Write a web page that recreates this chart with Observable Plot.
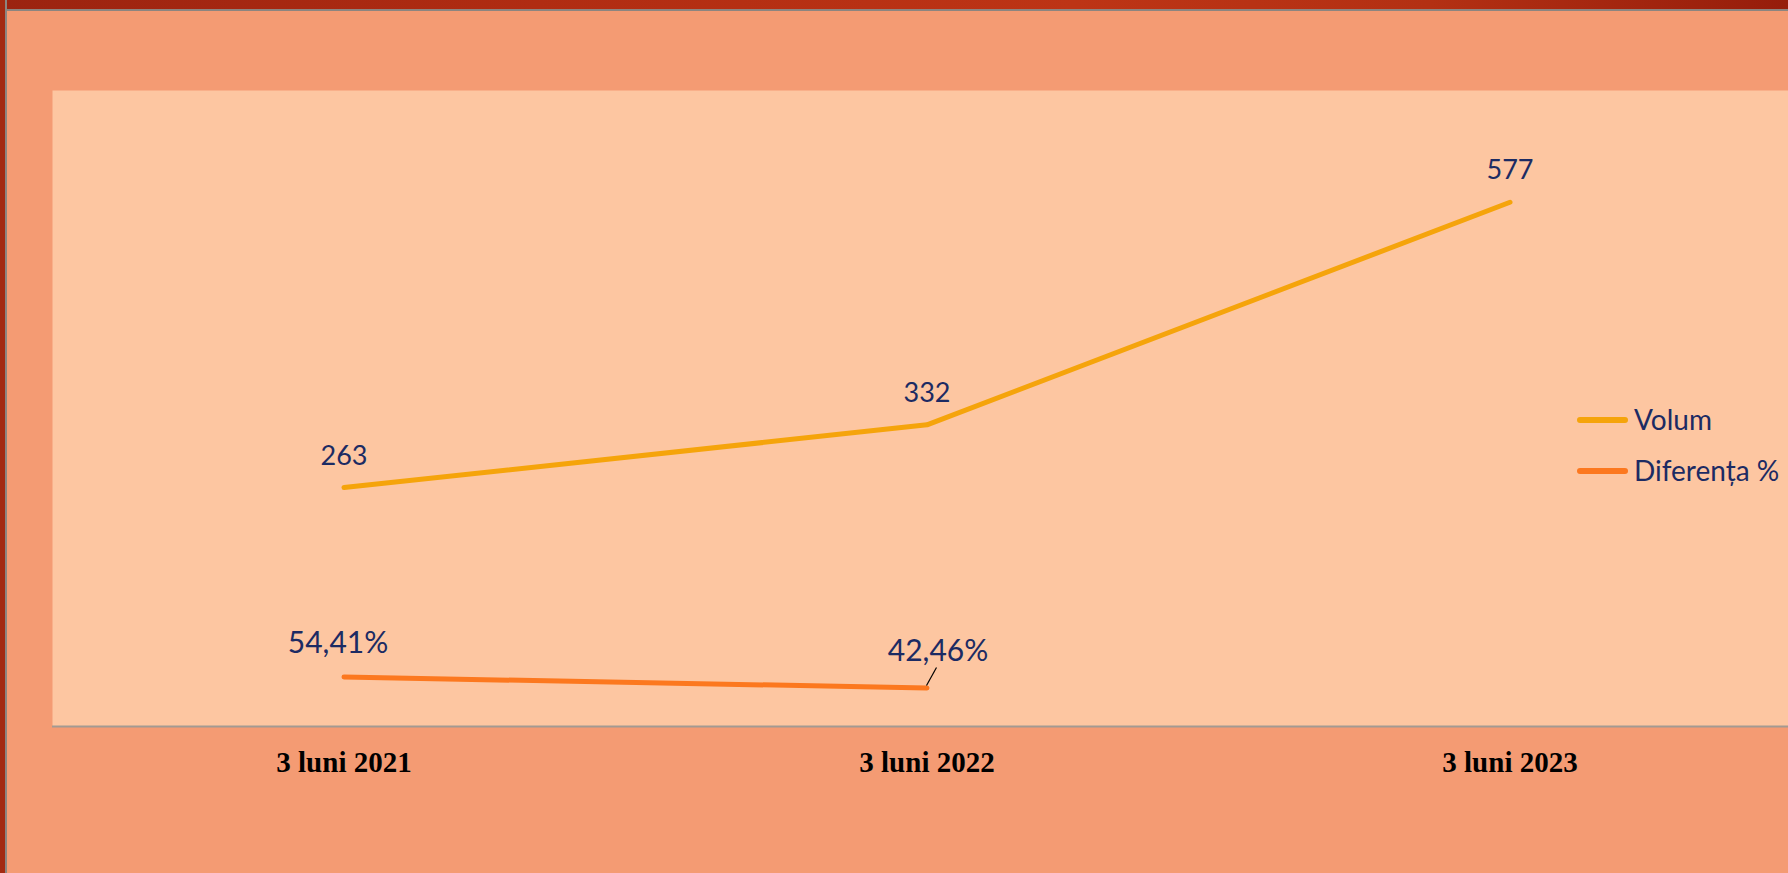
<!DOCTYPE html>
<html><head><meta charset="utf-8">
<script src="https://cdn.jsdelivr.net/npm/d3@7"></script>
<script src="https://cdn.jsdelivr.net/npm/@observablehq/plot@0.6"></script>
<style>
html,body{margin:0;padding:0;}
body{width:1788px;height:873px;overflow:hidden;background:#f49b73;position:relative;}
#top{position:absolute;left:0;top:0;width:1788px;height:9px;background:linear-gradient(90deg,#9b2310 0%,#b02c12 30%,#bd3415 60%,#b33013 80%,#961d0b 100%);border-bottom:2px solid #8c8580;z-index:3}
#left{position:absolute;left:0;top:0;width:5px;height:873px;background:#a32a12;border-right:2px solid #8c8580;z-index:3}
#chart{position:absolute;left:0;top:0;width:1801px;}
#chart svg{max-width:none !important;}
.leg{position:absolute;left:1577px;height:0;z-index:2;font-family:Lato,"Noto Sans",sans-serif;font-size:28px;color:#1c2b63;}
.leg .sw{position:absolute;left:0;top:-3px;width:51px;height:6px;border-radius:3px;}
.leg .lb{position:absolute;left:57px;top:-18px;white-space:nowrap;line-height:34px;}
</style></head>
<body>
<div id="top"></div><div id="left"></div>
<div id="chart"></div>
<script>
const categories = ["3 luni 2021", "3 luni 2022", "3 luni 2023"];
const volum = [263, 332, 577];
const diferenta = [54.41, 42.46];
const seriesNames = ["Volum", "Diferența %"];
const seriesColors = ["#f5a40b", "#fc781f"];

const volData = categories.map((c, i) => ({cat: c, v: volum[i]}));
const difData = diferenta.map((v, i) => ({cat: categories[i], v}));
const fmtPct = v => v.toFixed(2).replace(".", ",") + "%";
const navy = "#1c2b63";

const leader = Plot.dot([difData[1]], {
  x: "cat", y: "v", r: 0,
  render(index, scales, values, dims, ctx) {
    const g = d3.create("svg:g");
    const s = scales.x;
    const bw = typeof s.bandwidth === "function" ? s.bandwidth() : (s.bandwidth ?? 0);
    for (const d of [difData[1]]) {
      const x = s(d.cat) + bw / 2, y = scales.y(d.v);
      g.append("line").attr("x1", x).attr("y1", y - 2).attr("x2", x + 10).attr("y2", y - 20)
        .attr("stroke", "#000").attr("stroke-width", 1.2);
    }
    return g.node();
  }
});

const chart = Plot.plot({
  width: 1801, height: 873,
  marginLeft: 52, marginRight: 0, marginTop: 90, marginBottom: 147,
  x: {type: "band", domain: categories, padding: 0, label: null},
  y: {domain: [0, 700], axis: null},
  style: {background: "transparent", overflow: "visible", maxWidth: "none"},
  marks: [
    Plot.frame({fill: "#fdc6a1", stroke: "none"}),
    Plot.ruleY([0], {stroke: "#a39a92", strokeWidth: 2}),
    Plot.axisX({tickSize: 0, tickPadding: 25, fontSize: 29, fontFamily: "Liberation Serif, Times New Roman, serif", fontWeight: "bold", color: "#000", fill: "#000", label: null}),
    Plot.line(volData, {x: "cat", y: "v", stroke: seriesColors[0], strokeWidth: 5, strokeLinecap: "round"}),
    Plot.line(difData, {x: "cat", y: "v", stroke: seriesColors[1], strokeWidth: 5, strokeLinecap: "round"}),
    Plot.text(volData, {x: "cat", y: "v", text: d => String(d.v), dy: -23, lineAnchor: "bottom", fontSize: 27, fontFamily: "Lato, Noto Sans, sans-serif", fill: navy}),
    Plot.text([difData[0]], {x: "cat", y: "v", text: d => fmtPct(d.v), dx: -6, dy: -24, lineAnchor: "bottom", fontSize: 30, fontFamily: "Lato, Noto Sans, sans-serif", fill: navy}),
    Plot.text([difData[1]], {x: "cat", y: "v", text: d => fmtPct(d.v), dx: 11, dy: -27, lineAnchor: "bottom", fontSize: 30, fontFamily: "Lato, Noto Sans, sans-serif", fill: navy}),
    leader
  ]
});
document.getElementById("chart").appendChild(chart);

const legTops = [420, 471];
seriesNames.forEach((n, i) => {
  const d = document.createElement("div");
  d.className = "leg";
  d.style.top = legTops[i] + "px";
  d.innerHTML = `<div class="sw" style="background:${seriesColors[i]}"></div><div class="lb">${n}</div>`;
  document.body.appendChild(d);
});
</script>
</body></html>
